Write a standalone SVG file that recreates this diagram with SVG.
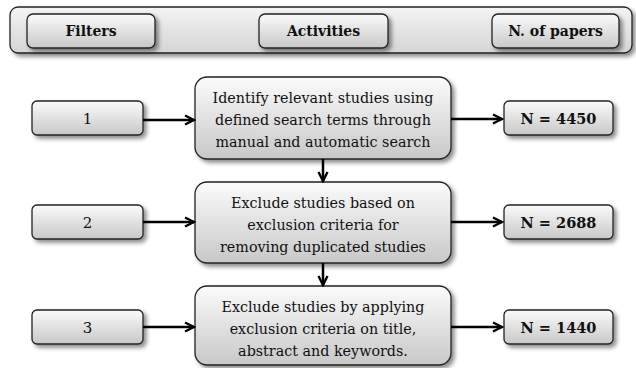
<svg xmlns="http://www.w3.org/2000/svg" width="636" height="368" viewBox="0 0 636 368">
<defs>
<linearGradient id="g" x1="0" y1="0" x2="0" y2="1">
<stop offset="0" stop-color="#fbfbfb"/>
<stop offset="1" stop-color="#c8c8c8"/>
</linearGradient>
<linearGradient id="gh" x1="0" y1="0" x2="0" y2="1">
<stop offset="0" stop-color="#f4f4f4"/>
<stop offset="1" stop-color="#d4d4d4"/>
</linearGradient>
<filter id="sh" x="-10%" y="-20%" width="130%" height="160%">
<feDropShadow dx="3" dy="3" stdDeviation="2" flood-color="#000" flood-opacity="0.45"/>
</filter>
<marker id="ah" viewBox="0 0 12 12" refX="10.5" refY="6" markerWidth="12" markerHeight="12" markerUnits="userSpaceOnUse" orient="auto">
<path d="M1.5,1.5 L10.5,6 L1.5,10.5" fill="none" stroke="#000" stroke-width="2.4"/>
</marker>
</defs>
<style>
.box{fill:url(#g);stroke:#222;stroke-width:1.3;filter:url(#sh)}
.hdr{fill:url(#gh);stroke:#222;stroke-width:1.3;filter:url(#sh)}
text{font-family:'DejaVu Serif',serif;font-size:14.3px;fill:#111;text-anchor:middle}
.b{font-weight:bold;font-size:14px}
.n{font-size:14.5px}
.f{font-size:15px}
.c{fill:none;stroke:#000;stroke-width:2.5;marker-end:url(#ah)}
</style>
<g id="header">
<rect class="hdr" x="10" y="7" width="622" height="46" rx="8"/>
</g>
<g id="h-filters"><rect class="box" x="27" y="14" width="128" height="34" rx="6"/><text class="b" x="91" y="36">Filters</text></g>
<g id="h-activities"><rect class="box" x="259" y="14" width="129" height="34" rx="6"/><text class="b" x="323.5" y="36">Activities</text></g>
<g id="h-papers"><rect class="box" x="492" y="14" width="127" height="34" rx="6"/><text class="b" x="555.5" y="36">N. of papers</text></g>

<g id="f1"><rect class="box" x="32" y="101" width="111" height="34" rx="5"/><text class="f" x="87.5" y="123.5">1</text></g>
<g id="f2"><rect class="box" x="32" y="205" width="111" height="34" rx="5"/><text class="f" x="87.5" y="227.5">2</text></g>
<g id="f3"><rect class="box" x="32" y="310" width="111" height="34" rx="5"/><text class="f" x="87.5" y="332.5">3</text></g>

<g id="a1"><rect class="box" x="195" y="77" width="256" height="82" rx="12"/>
<text x="323" y="103">Identify relevant studies using</text>
<text x="323" y="125">defined search terms through</text>
<text x="323" y="147">manual and automatic search</text></g>
<g id="a2"><rect class="box" x="195" y="182" width="256" height="81" rx="12"/>
<text x="323" y="208">Exclude studies based on</text>
<text x="323" y="230">exclusion criteria for</text>
<text x="323" y="252">removing duplicated studies</text></g>
<g id="a3"><rect class="box" x="195" y="286" width="256" height="79" rx="12"/>
<text x="323" y="312">Exclude studies by applying</text>
<text x="323" y="334">exclusion criteria on title,</text>
<text x="323" y="356">abstract and keywords.</text></g>

<g id="n1"><rect class="box" x="504" y="101" width="109" height="34" rx="5"/><text class="b n" x="558.5" y="123.5">N = 4450</text></g>
<g id="n2"><rect class="box" x="504" y="205" width="109" height="34" rx="5"/><text class="b n" x="558.5" y="227.5">N = 2688</text></g>
<g id="n3"><rect class="box" x="504" y="310" width="109" height="34" rx="5"/><text class="b n" x="558.5" y="332.5">N = 1440</text></g>

<g id="connectors">
<line class="c" x1="143" y1="120" x2="194" y2="120"/>
<line class="c" x1="143" y1="222" x2="194" y2="222"/>
<line class="c" x1="143" y1="327" x2="194" y2="327"/>
<line class="c" x1="451" y1="119" x2="502" y2="119"/>
<line class="c" x1="451" y1="222" x2="502" y2="222"/>
<line class="c" x1="451" y1="327" x2="502" y2="327"/>
<line class="c" x1="323" y1="159" x2="323" y2="181"/>
<line class="c" x1="323" y1="263" x2="323" y2="285"/>
</g>
</svg>
